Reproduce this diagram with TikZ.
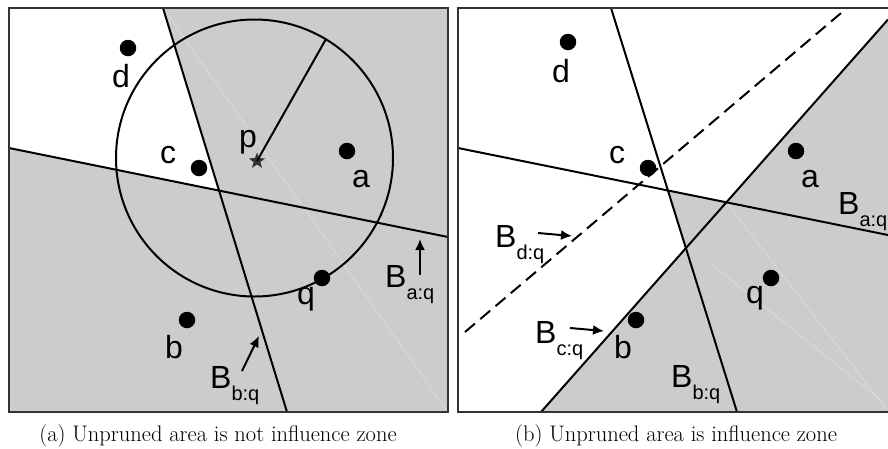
\documentclass[tikz,border=0pt]{standalone}
\usepackage{fontspec}
\usetikzlibrary{arrows.meta,shapes.geometric}
\newfontfamily\labfont{Liberation Sans}
\newcommand{\Blab}[1]{B\raisebox{-12pt}{\fontsize{20}{20}\selectfont #1}}
\begin{document}
\begin{tikzpicture}[x=1pt,y=-1pt,
  bline/.style={line width=2pt},
  frame/.style={draw=black!80, line width=1.3pt},
  dot/.style={circle,fill=black,inner sep=0pt,minimum size=16.5pt},
  lbl/.style={font=\labfont\fontsize{32}{32}\selectfont, inner sep=0pt, anchor=base},
  blbl/.style={font=\labfont\fontsize{32}{32}\selectfont, inner sep=0pt, anchor=base west},
  ptr/.style={line width=2pt, -{Latex[length=11pt,width=10pt]}},
  faint/.style={draw=white, line width=0.5pt, opacity=0.4},
  captext/.style={font=\fontsize{22.5}{27}\selectfont, inner sep=0pt, anchor=base},
  shade/.style={fill=black!20}]
\useasboundingbox (0,0) rectangle (888,448);

% ---------------- panel (a) ----------------
\fill[shade] (9,8) rectangle (448,412);
\coordinate (Ab1) at (163,8);
\coordinate (Ab2) at (287,412);
\coordinate (Aa1) at (9,148);
\coordinate (Aa2) at (448,237);
\coordinate (Aab) at (intersection of Ab1--Ab2 and Aa1--Aa2);
\fill[white] (9,8) -- (Ab1) -- (Aab) -- (Aa1) -- cycle;
\coordinate (Afa) at (447,411);
\draw[faint] (Ab1) -- (Afa);
\draw[bline] (Ab1) -- (Ab2);
\draw[bline] (Aa1) -- (Aa2);
\draw[bline] (254.5,158) circle[radius=138.5pt];
\node[star, star points=5, star point ratio=2.4, fill=black!80, inner sep=0pt, minimum size=17pt] (pA) at (257,161) {};
\coordinate (rimA) at (326,39);
\draw[bline] (pA.center) -- (rimA);

\node[dot] (dA) at (128,48) {};
\node[dot] (cA) at (199,168) {};
\node[dot] (aA) at (347,151) {};
\node[dot] (qA) at (322,278) {};
\node[dot] (bA) at (187,320) {};
\node[lbl] (dAl) at (121,87) {d};
\node[lbl] (cAl) at (168,163) {c};
\node[lbl] (pAl) at (248,147) {p};
\node[lbl] (aAl) at (361,187) {a};
\node[lbl] (qAl) at (306,304) {q};
\node[lbl] (bAl) at (174,358) {b};

\node[blbl] (BaqA) at (385,287) {\Blab{a:q}};
\coordinate (BaqAt) at (420,275);
\coordinate (BaqAh) at (420,239);
\draw[ptr] (BaqAt) -- (BaqAh);
\node[blbl] (BbqA) at (210,388) {\Blab{b:q}};
\coordinate (BbqAt) at (242,371);
\coordinate (BbqAh) at (259,336);
\draw[ptr] (BbqAt) -- (BbqAh);

\draw[frame] (9,8) rectangle (448,412);

% ---------------- panel (b) ----------------
\coordinate (Bb1) at (611,8);
\coordinate (Bb2) at (737,412);
\coordinate (Ba1) at (458,148);
\coordinate (Ba2) at (888,235);
\coordinate (Bc1) at (541,412);
\coordinate (Bc2) at (888,19.5);
\coordinate (Bd1) at (465,332);
\coordinate (Bd2) at (847,8);
\coordinate (BbBa) at (intersection of Bb1--Bb2 and Ba1--Ba2);
\coordinate (BaBc) at (intersection of Ba1--Ba2 and Bc1--Bc2);
\coordinate (BbBc) at (intersection of Bb1--Bb2 and Bc1--Bc2);
\fill[shade] (Bc1) -- (BbBc) -- (BbBa) -- (BaBc) -- (Bc2) -- (888,412) -- cycle;
\coordinate (Bfa) at (887,410);
\coordinate (Bfb1) at (710,263);
\coordinate (Bfb2) at (887,405);
\draw[faint] (BaBc) -- (Bfa);
\draw[faint] (Bfb1) -- (Bfb2);
\draw[bline] (Bb1) -- (Bb2);
\draw[bline] (Ba1) -- (Ba2);
\draw[bline] (Bc1) -- (Bc2);
\draw[bline, dash pattern=on 13pt off 7pt] (Bd1) -- (Bd2);

\node[dot] (dB) at (568,42) {};
\node[dot] (cB) at (648,168) {};
\node[dot] (aB) at (796,151) {};
\node[dot] (qB) at (771,278) {};
\node[dot] (bB) at (636,320) {};
\node[lbl] (dBl) at (561,82) {d};
\node[lbl] (cBl) at (617,163) {c};
\node[lbl] (aBl) at (810,187) {a};
\node[lbl] (qBl) at (755,303) {q};
\node[lbl] (bBl) at (623,358) {b};

\begin{scope}
\clip (458,8) rectangle (887,412);
\node[blbl] (BaqB) at (838,214) {\Blab{a:q}};
\end{scope}
\node[blbl] (BdqB) at (495,247) {\Blab{d:q}};
\coordinate (BdqBt) at (538,233);
\coordinate (BdqBh) at (572,236);
\draw[ptr] (BdqBt) -- (BdqBh);
\node[blbl] (BcqB) at (535,343) {\Blab{c:q}};
\coordinate (BcqBt) at (570,328);
\coordinate (BcqBh) at (604,331);
\draw[ptr] (BcqBt) -- (BcqBh);
\node[blbl] (BbqB) at (671,387) {\Blab{b:q}};

\draw[frame] (888,8) -- (458,8) -- (458,412) -- (888,412);

% ---------------- captions ----------------
\node[captext] (capA) at (218,441) {(a) Unpruned area is not influence zone};
\node[captext] (capB) at (676,441) {(b) Unpruned area is influence zone};
\end{tikzpicture}
\end{document}
